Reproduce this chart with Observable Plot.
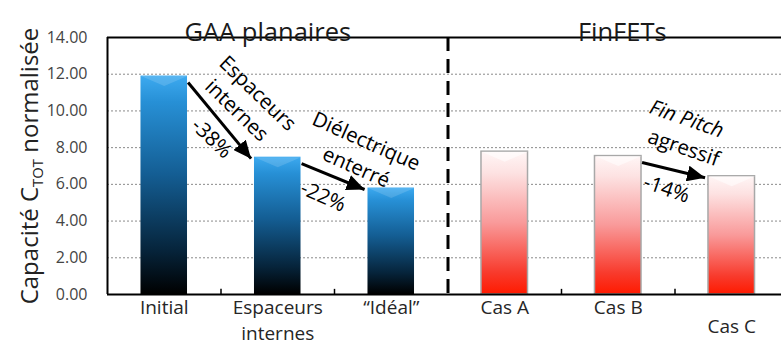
<!DOCTYPE html>
<html><head><meta charset="utf-8">
<script src="https://cdn.jsdelivr.net/npm/d3@7"></script>
<script src="https://cdn.jsdelivr.net/npm/@observablehq/plot@0.6"></script>
<style>
html,body{margin:0;padding:0;background:#fff;}
#chart svg{display:block;}
</style>
</head><body><div id="chart"></div>
<script>
// ---- data ----
const categories = ["Initial", "Espaceurs\ninternes", "\u201cIdéal\u201d", "Cas A", "Cas B", "Cas C"];
const groups = ["GAA", "GAA", "GAA", "FinFET", "FinFET", "FinFET"];
const values = [11.9, 7.48, 5.8, 7.78, 7.54, 6.44];
const groupNames = ["GAA", "FinFET"];
const groupTitles = ["GAA planaires", "FinFETs"];
const yTicks = [0, 2, 4, 6, 8, 10, 12, 14];
const gridTicks = [2, 4, 6, 8, 10, 12];
const arrowFrom = [0, 1, 4];
const arrowTo = [1, 2, 5];
const arrowLines = [
  ["Espaceurs", "internes", "-38%"],
  ["Diélectrique", "enterré", "-22%"],
  ["Fin Pitch", "agressif", "-14%"]
];
const yTitle = ["Capacité C", "TOT", " normalisée"];

// ---- layout / style (not data) ----
const W = 781, H = 345, mL = 107, mT = 37, mB = 51;
const xRangeEnd = 788;
const stepPx = (xRangeEnd - mL) / categories.length;
const halfBar = 0.205;
const annoRot = [44, 24, 19];
const annoOff = [
  [[38, -27], [17, -10], [-8, 18]],
  [[33, -35], [23, -9], [-10, 20]],
  [[13, -51], [10, -22], [-7, 19]]
];
const annoItalic = [[false, false, false], [false, false, false], [true, false, false]];

const bars = categories.map((c, i) => ({i, c, v: values[i], g: groups[i]}));
const arrows = arrowFrom.map((a, k) => {
  const b = arrowTo[k];
  return {
    x1: a + 0.5 + halfBar + 0.005, y1: values[a] - 0.35,
    x2: b + 0.5 - halfBar - 0.03, y2: values[b] - 0.08
  };
});
const groupCenters = groupNames.map(g => d3.mean(bars.filter(d => d.g === g), d => d.i + 0.5));

const bevelH = 10, bevelW = halfBar * stepPx;
const vSymbol = {draw(ctx) { ctx.moveTo(-bevelW, 0); ctx.lineTo(bevelW, 0); ctx.lineTo(0, bevelH); ctx.closePath(); }};

const defs = () => {
  const g = d3.create("svg:g");
  const d = g.append("defs");
  const lb = d.append("linearGradient").attr("id", "gBlue").attr("x1", 0).attr("y1", 0).attr("x2", 0).attr("y2", 1);
  [[0, "#3daaf0"], [0.12, "#2790d6"], [0.45, "#145e94"], [0.8, "#06243b"], [1, "#000"]]
    .forEach(([o, c]) => lb.append("stop").attr("offset", o).attr("stop-color", c));
  const lr = d.append("linearGradient").attr("id", "gRed").attr("x1", 0).attr("y1", 0).attr("x2", 0).attr("y2", 1);
  [[0, "#fff6f6"], [0.15, "#fde2e2"], [0.5, "#f99a9a"], [0.85, "#f83a2c"], [1, "#ff1a00"]]
    .forEach(([o, c]) => lr.append("stop").attr("offset", o).attr("stop-color", c));
  d.append("marker").attr("id", "ah").attr("markerUnits", "userSpaceOnUse")
    .attr("markerWidth", 20).attr("markerHeight", 16).attr("refX", 18).attr("refY", 8).attr("orient", "auto")
    .append("path").attr("d", "M0,0L18,8L0,16Z").attr("fill", "#000");
  return g.node();
};

const annoMarks = arrows.flatMap((a, k) => arrowLines[k].map((t, j) => Plot.text([a], {
  x: d => (d.x1 + d.x2) / 2, y: d => (d.y1 + d.y2) / 2,
  text: () => t, rotate: annoRot[k], dx: annoOff[k][j][0], dy: annoOff[k][j][1],
  fontSize: 20.5, fill: "#000", fontStyle: annoItalic[k][j] ? "italic" : "normal"
})));

const chart = Plot.plot({
  width: W, height: H,
  marginLeft: mL, marginRight: 0, marginTop: mT, marginBottom: mB,
  style: {fontFamily: "'Open Sans', sans-serif", background: "#fff", color: "#000"},
  x: {domain: [0, categories.length], range: [mL, xRangeEnd], axis: null},
  y: {domain: [0, 14], axis: null},
  marks: [
    defs,
    Plot.ruleY(gridTicks, {stroke: "#8a8a8a", strokeWidth: 1, strokeDasharray: "2,2"}),
    Plot.rectY(bars, {
      x1: d => d.i + 0.5 - halfBar, x2: d => d.i + 0.5 + halfBar, y1: 0, y2: "v",
      fill: d => d.g === "GAA" ? "url(#gBlue)" : "url(#gRed)",
      stroke: d => d.g === "GAA" ? "none" : "#a8a8a8", strokeWidth: 1.5
    }),
    Plot.dot(bars, {x: d => d.i + 0.5, y: "v", symbol: vSymbol, r: 5,
      fill: "#fff", fillOpacity: d => d.g === "GAA" ? 0.14 : 0.55, stroke: null}),
    Plot.ruleY([0, 14], {stroke: "#000", strokeWidth: 2}),
    Plot.ruleX([0], {stroke: "#000", strokeWidth: 2}),
    Plot.ruleX([3], {stroke: "#000", strokeWidth: 3, strokeDasharray: "14,8"}),
    Plot.ruleX([1, 2, 4, 5], {y1: 0, y2: 0.28, stroke: "#000", strokeWidth: 1.5}),
    Plot.axisY({ticks: yTicks, tickFormat: d => d.toFixed(2), tickSize: 0, tickPadding: 20,
      fontSize: 16, fill: "#444", label: null}),
    Plot.text(bars.filter(d => d.i < 5), {x: d => d.i + 0.5, text: "c", frameAnchor: "bottom",
      lineAnchor: "top", dy: 1, fontSize: 19, fill: "#262626", lineHeight: 1.36}),
    Plot.text(bars.filter(d => d.i === 5), {x: d => d.i + 0.5, text: "c", frameAnchor: "bottom",
      lineAnchor: "top", dy: 25, fontSize: 19, fill: "#262626"}),
    Plot.text([groupTitles[0]], {x: groupCenters[0], frameAnchor: "top", dy: -15, dx: -10, fontSize: 25.5, fill: "#1a1a1a"}),
    Plot.text([groupTitles[1]], {x: groupCenters[1], frameAnchor: "top", dy: -15, dx: 4, fontSize: 25.5, fill: "#1a1a1a"}),
    Plot.text(["__YT__"], {frameAnchor: "left", textAnchor: "middle", dx: -77, rotate: -90, fontSize: 24, fill: "#222"}),
    Plot.link(arrows, {x1: "x1", y1: "y1", x2: "x2", y2: "y2", stroke: "#000", strokeWidth: 3}),
    ...annoMarks
  ]
});

d3.select(chart).selectAll('g[aria-label="link"] path').attr("marker-end", "url(#ah)");
d3.select(chart).selectAll("text").filter(function() { return this.textContent === "__YT__"; })
  .each(function() {
    const t = d3.select(this);
    t.text(null);
    t.append("tspan").text(yTitle[0]);
    t.append("tspan").attr("font-size", "62%").attr("dy", "0.35em").text(yTitle[1]);
    t.append("tspan").attr("dy", "-0.22em").text(yTitle[2]);
  });

document.getElementById("chart").appendChild(chart);
</script>
</body></html>
